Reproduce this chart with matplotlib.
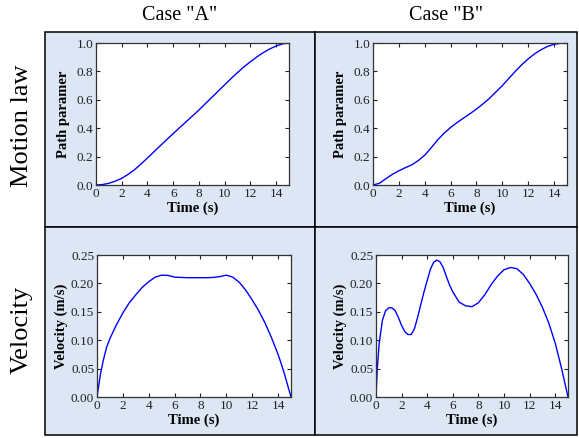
import matplotlib
matplotlib.use('Agg')
import matplotlib.pyplot as plt
from matplotlib.patches import Rectangle

plt.rcParams['font.family'] = ['Liberation Serif', 'DejaVu Serif']

# motion law, case A
t_path_a = [0, 0.5, 1, 1.5, 2, 2.5, 3, 3.5, 4, 5, 6, 7, 8, 9, 10, 10.5, 11, 11.5,
            12, 12.5, 13, 13.5, 14, 14.5, 15]
path_a = [0, 0.003, 0.012, 0.027, 0.047, 0.075, 0.108, 0.148, 0.19, 0.277, 0.362,
          0.445, 0.528, 0.617, 0.706, 0.75, 0.792, 0.832, 0.868, 0.902, 0.932, 0.958,
          0.979, 0.994, 1.0]

# motion law, case B
t_path_b = [0, 0.5, 1, 1.5, 2, 2.5, 3, 3.5, 4, 4.5, 5, 5.5, 6, 6.5, 7, 7.5, 8, 8.5,
            9, 9.5, 10, 10.5, 11, 11.5, 12, 12.5, 13, 13.5, 14, 14.5, 15]
path_b = [0, 0.012, 0.045, 0.075, 0.1, 0.122, 0.142, 0.172, 0.21, 0.262, 0.318, 0.365,
          0.405, 0.44, 0.471, 0.502, 0.535, 0.571, 0.61, 0.655, 0.70, 0.75, 0.80, 0.847,
          0.888, 0.924, 0.953, 0.976, 0.991, 0.998, 1.0]

# velocity, case A
t_vel_a = [0, 0.25, 0.5, 0.75, 1, 1.5, 2, 2.5, 3, 3.5, 4, 4.5, 5, 5.5, 6, 6.5, 7, 7.5,
           8, 8.5, 9, 9.5, 10, 10.5, 11, 11.5, 12, 12.5, 13, 13.5, 14, 14.25, 14.5,
           14.75, 15]
vel_a = [0, 0.038, 0.066, 0.088, 0.103, 0.127, 0.148, 0.166, 0.18, 0.193, 0.203,
         0.211, 0.2145, 0.214, 0.211, 0.2105, 0.21, 0.21, 0.21, 0.21, 0.2105, 0.212,
         0.2145, 0.211, 0.202, 0.188, 0.171, 0.152, 0.13, 0.104, 0.075, 0.058, 0.04,
         0.02, 0]

# velocity, case B
t_vel_b = [0, 0.1, 0.25, 0.5, 0.75, 1.0, 1.25, 1.5, 1.75, 2, 2.25, 2.5, 2.75, 3, 3.25,
           3.5, 3.75, 4, 4.25, 4.5, 4.75, 5, 5.25, 5.5, 5.75, 6, 6.5, 7, 7.5, 8, 8.5,
           9, 9.5, 10, 10.5, 11, 11.5, 12, 12.5, 13, 13.5, 14, 14.5, 15]
vel_b = [0, 0.05, 0.095, 0.135, 0.152, 0.157, 0.157, 0.152, 0.14, 0.126, 0.115, 0.11,
         0.11, 0.12, 0.14, 0.163, 0.185, 0.205, 0.225, 0.237, 0.241, 0.238, 0.228,
         0.212, 0.197, 0.185, 0.167, 0.1605, 0.159, 0.166, 0.18, 0.198, 0.213, 0.224,
         0.228, 0.226, 0.216, 0.2, 0.181, 0.158, 0.13, 0.095, 0.05, 0]

col_titles = ['Case "A"', 'Case "B"']
row_titles = ['Motion law', 'Velocity']

W, H = 579, 438
fig = plt.figure(figsize=(W / 100, H / 100), dpi=100)


def px_box(x0, y0, x1, y1):
    # pixel box (top-left origin) -> figure fraction [l, b, w, h]
    return [x0 / W, 1 - y1 / H, (x1 - x0) / W, (y1 - y0) / H]


# light blue cells behind the plots
cells = [(45, 32, 315, 227), (315, 32, 577, 227), (45, 227, 315, 435), (315, 227, 577, 435)]
for c in cells:
    l, b, w, h = px_box(*c)
    fig.add_artist(Rectangle((l, b), w, h, transform=fig.transFigure,
                             facecolor='#dce6f5', edgecolor='black', lw=1.1, zorder=-1))

panels = [
    (px_box(96, 43, 289, 185), t_path_a, path_a, 'Path paramer', (0, 1.0), [0, 0.2, 0.4, 0.6, 0.8, 1.0], '%.1f', 5),
    (px_box(373, 43, 567, 185), t_path_b, path_b, 'Path paramer', (0, 1.0), [0, 0.2, 0.4, 0.6, 0.8, 1.0], '%.1f', 5),
    (px_box(97, 255, 291, 397), t_vel_a, vel_a, 'Velocity (m/s)', (0, 0.25), [0, 0.05, 0.1, 0.15, 0.2, 0.25], '%.2f', 2),
    (px_box(376, 255, 568, 397), t_vel_b, vel_b, 'Velocity (m/s)', (0, 0.25), [0, 0.05, 0.1, 0.15, 0.2, 0.25], '%.2f', 2),
]

for rect, t, y, ylabel, ylim, yticks, fmt, pad in panels:
    ax = fig.add_axes(rect)
    ax.plot(t, y, color='blue', lw=1.0)
    ax.set_xlim(0, 15)
    ax.set_ylim(*ylim)
    ax.set_xticks(range(0, 15, 2))
    ax.set_yticks(yticks)
    ax.set_yticklabels([fmt % v for v in yticks])
    ax.tick_params(direction='in', top=True, right=True, length=3, width=0.8,
                   labelsize=9.5, pad=2, colors='#222222')
    for s in ax.spines.values():
        s.set_color('#333333')
        s.set_linewidth(0.9)
    ax.set_xlabel('Time (s)', fontsize=10.5, fontweight='bold', labelpad=1)
    ax.set_ylabel(ylabel, fontsize=10.5, fontweight='bold', labelpad=pad)

fig.text(180 / W, 1 - 15 / H, col_titles[0], fontsize=14.5, ha='center', va='center')
fig.text(446 / W, 1 - 15 / H, col_titles[1], fontsize=14.5, ha='center', va='center')
fig.text(22 / W, 1 - 126 / H, row_titles[0], fontsize=19, rotation=90, ha='center', va='center')
fig.text(22 / W, 1 - 330 / H, row_titles[1], fontsize=19, rotation=90, ha='center', va='center')

fig.savefig('out.png', dpi=100)
